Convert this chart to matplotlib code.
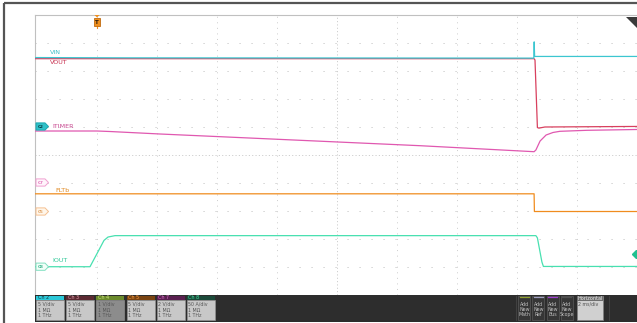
import matplotlib
matplotlib.use("Agg")
import matplotlib.pyplot as plt
from matplotlib.patches import Rectangle, Polygon

plt.rcParams['font.family'] = ['DejaVu Sans']
plt.rcParams['lines.scale_dashes'] = False

# ---------------- data (time in ms, level in screen divisions) ----------------
vin_t = [-2.07, 1.1, 14.56, 14.573, 14.587, 18.0]
vin_v = [3.48, 3.47, 3.46, 4.04, 3.52, 3.52]

vout_t = [-2.07, 1.1, 14.57, 14.6, 14.68, 14.73, 14.93, 18.0]
vout_v = [3.44, 3.44, 3.44, 3.39, 0.98, 0.96, 1.00, 1.02]

itimer_t = [-2.07, 0.0, 0.43, 2.1, 4.1, 10.77, 14.57, 14.63, 14.77, 14.97, 15.2, 15.43, 16.33, 18.0]
itimer_v = [0.857, 0.857, 0.839, 0.75, 0.654, 0.332, 0.118, 0.179, 0.50, 0.714, 0.804, 0.846, 0.882, 0.911]

fltb_t = [-2.07, 14.57, 14.58, 18.0]
fltb_v = [-1.386, -1.386, -2.018, -2.018]

iout_t = [-2.07, -0.233, 0.1, 0.233, 0.367, 0.6, 14.63, 14.68, 14.83, 14.88, 18.0]
iout_v = [-3.99, -3.99, -3.32, -3.05, -2.93, -2.88, -2.88, -2.96, -3.82, -3.98, -3.98]

trace_names = ["VIN", "VOUT", "ITIMER", "FLTb", "IOUT"]
trace_colors = ["#3cc6d0", "#d8405e", "#e058b0", "#f08c1e", "#48e0b0"]
label_colors = ["#3cc0c8", "#c83050", "#c84890", "#e08820", "#30c898"]

channels = ["Ch 2", "Ch 3", "Ch 4", "Ch 5", "Ch 7", "Ch 8"]
ch_scale = ["5 V/div", "5 V/div", "1 V/div", "5 V/div", "2 V/div", "50 A/div"]
ch_imp = ["1 MΩ"] * 6
ch_bw = ["1 THz"] * 6
ch_head = ["#2cc8d8", "#5c2a32", "#6b8a2c", "#7a4412", "#5a2050", "#1c4a3a"]
ch_headtxt = ["#103840", "#e0a0b0", "#d0e880", "#ffa040", "#e070d0", "#40e0a0"]
ch_body = ["#c8c8c8", "#c8c8c8", "#8c8c8c", "#c8c8c8", "#c8c8c8", "#c8c8c8"]

buttons = ["Math", "Ref", "Bus", "Scope"]
btn_stripe = ["#90a030", "#a0a0c0", "#a040d0", "#505050"]

W, H = 637, 323
fig = plt.figure(figsize=(W / 100, H / 100), dpi=100)

# background axes in pixel coordinates
bg = fig.add_axes([0, 0, 1, 1])
bg.set_xlim(0, W); bg.set_ylim(H, 0); bg.axis('off')
bg.add_patch(Rectangle((0, 0), W, H, color='white', zorder=0))
bg.plot([4, 4], [3, H], color='#555555', lw=1.6, solid_capstyle='butt')
bg.plot([4, W], [3, 3], color='#555555', lw=1.6, solid_capstyle='butt')

# scope axes
X0, X1, Y0, Y1 = 35, 637, 15, 295
ax = fig.add_axes([X0 / W, (H - Y1) / H, (X1 - X0) / W, (Y1 - Y0) / H])
ax.patch.set_alpha(0)
t_left = (X0 - 97) / 30.0
t_right = (X1 - 97) / 30.0
ax.set_xlim(t_left, t_right)
ax.set_ylim(-5, 5)
ax.set_xticks([]); ax.set_yticks([])
for s in ['right', 'bottom']:
    ax.spines[s].set_visible(False)
for s in ['top', 'left']:
    ax.spines[s].set_color('#c0c0c0')
    ax.spines[s].set_linewidth(0.8)

gc = '#c4c4c4'
for k in range(0, 9):
    t = 2.0 * k
    style = (0, (0.8, 1.6)) if k == 4 else (0, (0.7, 3.3))
    ax.plot([t, t], [-5, 5], color=gc, lw=0.6, linestyle=style)
for k in range(-4, 5):
    if k == 0:
        ax.plot([t_left, t_right], [0, 0], color=gc, lw=0.6, linestyle=(0, (0.8, 1.6)))
    else:
        ax.plot([t_left, t_right], [k, k], color=gc, lw=0.7, linestyle=(0, (0.8, 7.84)))

data_map = {"VIN": (vin_t, vin_v), "VOUT": (vout_t, vout_v), "ITIMER": (itimer_t, itimer_v),
            "FLTb": (fltb_t, fltb_v), "IOUT": (iout_t, iout_v)}
for name in ["VOUT", "VIN", "ITIMER", "FLTb", "IOUT"]:
    i = trace_names.index(name)
    tt, vv = data_map[name]
    ax.plot(tt, vv, color=trace_colors[i], lw=0.9, zorder=5)

# overlay axes for annotations
ov = fig.add_axes([0, 0, 1, 1])
ov.set_xlim(0, W); ov.set_ylim(H, 0); ov.axis('off'); ov.patch.set_alpha(0)

lab_pos = {"VIN": (50, 52), "VOUT": (50, 62.5), "ITIMER": (52, 126), "FLTb": (55, 190.5), "IOUT": (52, 261)}
for i, name in enumerate(trace_names):
    x, y = lab_pos[name]
    ov.text(x, y, name, color=label_colors[i], fontsize=4.6, va='center', ha='left')

def badge(yc, txt, fc, ec, tc):
    x0, x1 = 36, 48.5
    h = 3.6
    pts = [(x0, yc - h), (x1 - 3.5, yc - h), (x1, yc), (x1 - 3.5, yc + h), (x0, yc + h)]
    ov.add_patch(Polygon(pts, closed=True, fc=fc, ec=ec, lw=0.7, zorder=6))
    ov.text(x0 + 5, yc + 0.2, txt, fontsize=3.0, color=tc, ha='center', va='center', zorder=7,
            fontweight='bold')

badge(126.5, "C2", "#30c0c8", "#1aa8b0", "#0a3a40")
badge(182.5, "C7", "#fff4fb", "#f0a0d0", "#e070b8")
badge(211.5, "C5", "#fff6ea", "#f5c090", "#e0a060")
badge(266.7, "C8", "#f2fff9", "#80e0c0", "#40b890")

# trigger marker
ov.add_patch(Polygon([(94.5, 15), (99.5, 15), (97, 17.5)], closed=True, fc='#f0901e', ec='none', zorder=6))
ov.add_patch(Rectangle((93.8, 18.3), 6.4, 7.4, fc='#f0901e', ec='#c06a10', lw=0.6, zorder=6))
ov.text(97, 22.2, "T", fontsize=4, color='#2a1a0a', ha='center', va='center', fontweight='bold', zorder=7)
ov.plot([97, 97], [26, 27.5], color='#f0901e', lw=0.8)

# top-right triangle
ov.add_patch(Polygon([(626, 17), (637, 17), (637, 28)], closed=True, fc='#3a3a3a', ec='none'))
# right green diamond
ov.plot([636], [253.5], marker='D', ms=4.2, color='#20c090', mec='#20c090', clip_on=False)

# bottom bar
ov.add_patch(Rectangle((35, 295), W - 35, 26.5, fc='#2d2d2d', ec='none', zorder=2))
for j, ch in enumerate(channels):
    x0 = 36 + 30.2 * j
    w = 28
    ov.add_patch(Rectangle((x0, 295.7), w, 4.3, fc=ch_head[j], ec='none', zorder=3))
    ov.add_patch(Rectangle((x0, 300), w, 19.5, fc=ch_body[j], ec='#9a9a9a', lw=0.4, zorder=3))
    ov.text(x0 + 1.5, 297.9, ch, fontsize=3.5, color=ch_headtxt[j], va='center', ha='left', zorder=4)
    for r, s in enumerate([ch_scale[j], ch_imp[j], ch_bw[j]]):
        ov.text(x0 + 1.5, 304.3 + 5.7 * r, s, fontsize=3.4, color='#555555', va='center', ha='left', zorder=4)

ov.plot([515.5, 515.5], [296, 320], color='#454545', lw=0.6, zorder=3)
ov.plot([608.5, 608.5], [296, 320], color='#454545', lw=0.6, zorder=3)
for j, b in enumerate(buttons):
    x0 = 518.3 + 14.1 * j
    w = 12
    ov.add_patch(Rectangle((x0, 296), w, 24, fc='#363636', ec='#5a5a5a', lw=0.5, zorder=3))
    ov.plot([x0 + 1.5, x0 + w - 1.5], [297.3, 297.3], color=btn_stripe[j], lw=0.9, zorder=4)
    for r, s in enumerate(["Add", "New", b]):
        ov.text(x0 + w / 2, 304 + 5.4 * r, s, fontsize=3.4, color='#c0c0c0', ha='center', va='center', zorder=4)

ov.add_patch(Rectangle((576.7, 296), 26.6, 24, fc='#d0d0d0', ec='#808080', lw=0.5, zorder=3))
ov.add_patch(Rectangle((576.7, 296), 26.6, 4.6, fc='#6e6e6e', ec='none', zorder=4))
ov.text(578, 298.3, "Horizontal", fontsize=3.5, color='#f0f0f0', ha='left', va='center', zorder=5)
ov.text(578, 303.6, "2 ms/div", fontsize=3.4, color='#505050', ha='left', va='center', zorder=5)

fig.savefig("out.png", dpi=100)
